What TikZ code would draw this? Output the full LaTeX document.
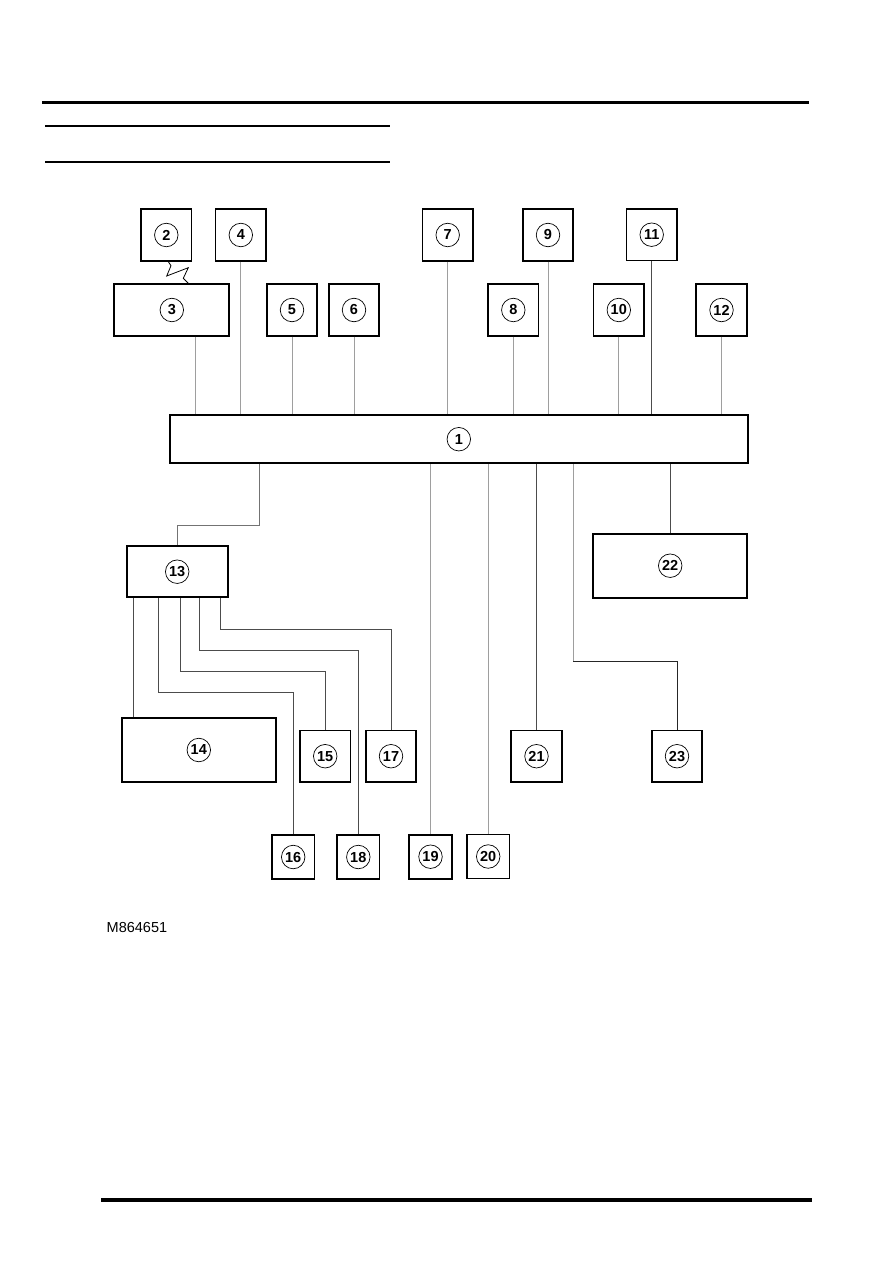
\documentclass[tikz,border=0pt]{standalone}
\usepackage{fontspec}
\setmainfont{Liberation Sans}
\usetikzlibrary{positioning}

\begin{document}
\begin{tikzpicture}[x=1pt,y=-1pt]
  \tikzset{unit/.style = {shape=rectangle,draw,line width=1.8pt,minimum width=50.5pt,minimum height=51.5pt,inner sep=0pt}}
  \tikzset{tinyunit/.style = {unit,minimum width=42.5pt,minimum height=44pt}}
  \tikzset{num/.style = {shape=circle,draw,line width=0.7pt,minimum size=23.5pt,inner sep=0pt,font=\fontsize{14.5}{15}\selectfont\bfseries}}
  \tikzset{wire/.style = {line width=0.9pt,draw=black!38}}
  \tikzset{darkwire/.style = {line width=0.9pt,draw=black!70}}
  \tikzset{rule/.style = {line width=2pt}}

  \useasboundingbox (0,0) rectangle (893,1263);

  % page rules
  \draw[rule,line width=3pt] (42,102.3) -- (809,102.3);
  \draw[rule] (45,125.7) -- (390,125.7);
  \draw[rule] (45,161.7) -- (390,161.7);
  \draw[rule,line width=4pt] (101,1199.7) -- (811.7,1199.7);

  % main unit
  \node[unit,minimum width=577.7pt,minimum height=48.3pt] (b1) at (458.8,439.2) {};

  % upper row
  \node[unit] (b2) at (166.3,235) {};
  \node[unit] (b4) at (240.8,235) {};
  \node[unit] (b7) at (447.7,235) {};
  \node[unit] (b9) at (548,235) {};
  \node[unit] (b11) at (651.7,234.7) {};

  \node[unit,minimum width=115pt] (b3) at (171.8,310) {};
  \node[unit] (b5) at (292,310) {};
  \node[unit] (b6) at (354,310) {};
  \node[unit] (b8) at (513.3,310) {};
  \node[unit] (b10) at (618.8,310) {};
  \node[unit] (b12) at (721.5,310) {};

  % lower part
  \node[unit,minimum width=101pt,minimum height=51.3pt] (b13) at (177.2,571.7) {};
  \node[unit,minimum width=154.3pt,minimum height=64pt] (b22) at (670.2,565.7) {};
  \node[unit,minimum width=154.3pt,minimum height=64.6pt] (b14) at (198.8,750) {};
  \node[unit] (b15) at (325.2,756.2) {};
  \node[unit] (b17) at (391,756.2) {};
  \node[unit] (b21) at (536.5,756.2) {};
  \node[unit] (b23) at (677,756.2) {};
  \node[tinyunit] (b16) at (293.2,857) {};
  \node[tinyunit] (b18) at (358.3,857) {};
  \node[tinyunit] (b19) at (430.5,856.7) {};
  \node[tinyunit] (b20) at (488.2,856.5) {};

  % circled numbers
  \foreach \n in {1,...,23}
    \node[num] (n\n) at (b\n) {\n};

  % radio link
  \draw[line width=0.8pt] ([xshift=2pt]b2.south) -- (171,265.7) -- (166.7,276)
    -- (188.3,267.7) -- (183.3,278.3) -- ([xshift=16.5pt]b3.north);

  % drops to unit 1
  \draw[wire] ([xshift=23.9pt]b3.south) coordinate (t3) -- (t3 |- b1.north);
  \foreach \from in {4,5,6,7,8,9,10,12}
    \draw[wire] (b\from.south) -- (b\from.south |- b1.north);
  \draw[darkwire] (b11.south) -- (b11.south |- b1.north);

  \foreach \to in {19,20}
    \draw[wire] (b1.south -| b\to.north) -- (b\to.north);
  \foreach \to in {21,22}
    \draw[darkwire] (b1.south -| b\to.north) -- (b\to.north);

  \coordinate (k23) at (573,661.3);
  \draw[wire] (k23 |- b1.south) -- (k23);
  \draw[darkwire,draw=black!85] (k23) -| (b23.north);

  \coordinate (k13) at (259,525);
  \draw[darkwire,draw=black!55] (k13 |- b1.south) -- (k13) -| (b13.north);

  % branches of unit 13
  \coordinate (k14) at (133.3,0);
  \draw[darkwire] (k14 |- b13.south) -- (k14 |- b14.north);
  \foreach \to/\x/\y in {16/158/692.7, 15/180.3/671.7, 18/199.3/650.3, 17/220.7/629.3}
  {
    \coordinate (k\to) at (\x,\y);
    \draw[darkwire] (k\to |- b13.south) -- (k\to) -| (b\to.north);
  }

  \node[font=\fontsize{14.5}{16}\selectfont,anchor=west,inner sep=0pt] (code) at (106.5,927) {M864651};
\end{tikzpicture}
\end{document}
